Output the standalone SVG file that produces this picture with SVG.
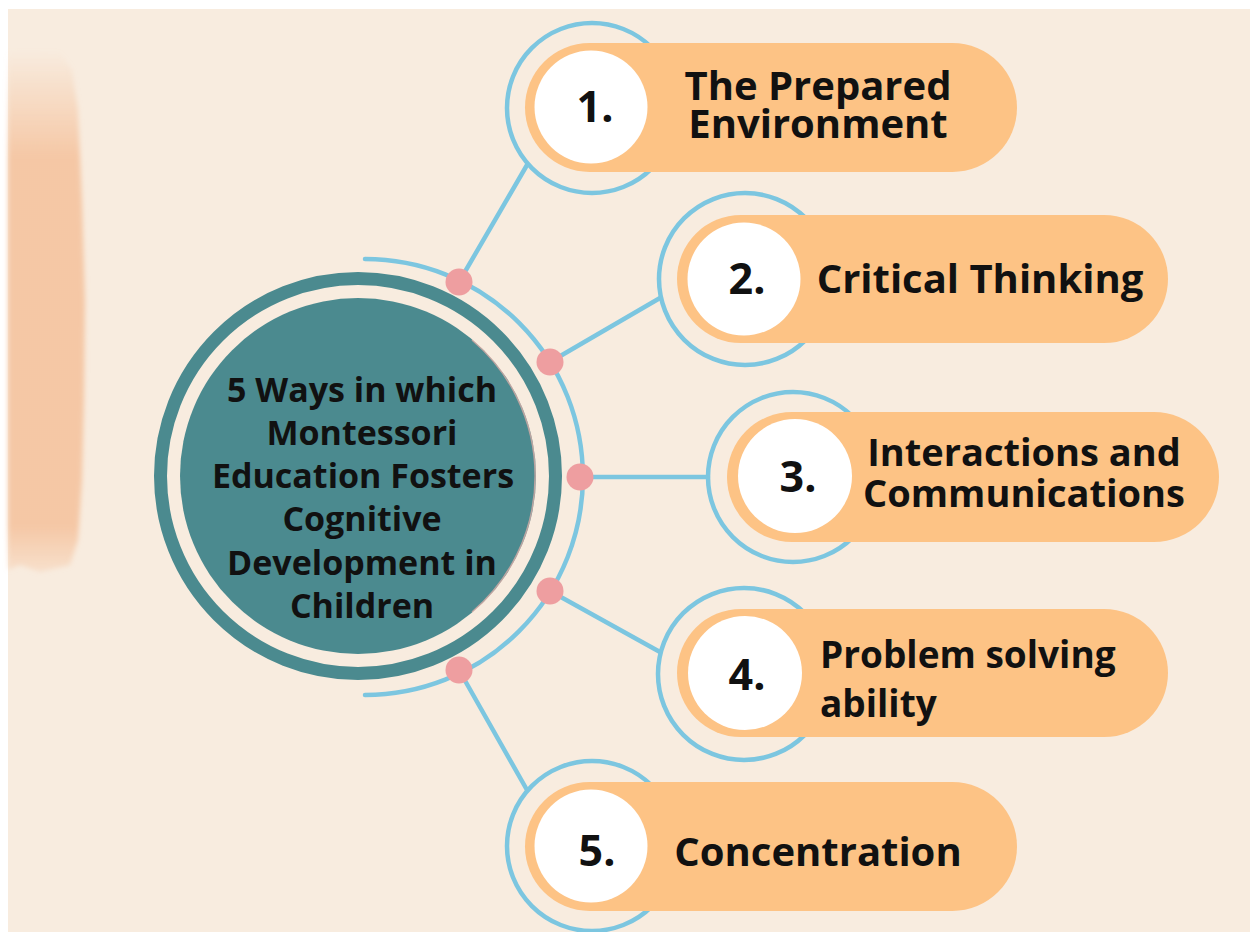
<svg xmlns="http://www.w3.org/2000/svg" width="1250" height="932" viewBox="0 0 1250 932">
  <defs>
    <linearGradient id="brush" x1="0" y1="50" x2="0" y2="580" gradientUnits="userSpaceOnUse">
      <stop offset="0" stop-color="#F5C4A0" stop-opacity="0"/>
      <stop offset="0.1" stop-color="#F5C4A0" stop-opacity="0.45"/>
      <stop offset="0.2" stop-color="#F5C4A0" stop-opacity="0.9"/>
      <stop offset="0.9" stop-color="#F5C4A0" stop-opacity="0.9"/>
      <stop offset="1" stop-color="#F5C4A0" stop-opacity="0.2"/>
    </linearGradient>
    <filter id="soft" x="-20%" y="-10%" width="140%" height="120%">
      <feGaussianBlur stdDeviation="2.5"/>
    </filter>
  </defs>
  <style>
    .ring { fill: none; stroke: #7CC6E0; stroke-width: 4.5; }
    .link { fill: none; stroke: #7CC6E0; stroke-width: 4.5; stroke-linecap: round; }
    .dot { fill: #EE9EA0; }
    .pill { fill: #FDC385; }
    .badge { fill: #FFFFFF; }
    .num { font-family: "Open Sans", "Liberation Sans", sans-serif; font-weight: 700; font-size: 43px; fill: #111111; text-anchor: middle; }
    .lbl { font-family: "Open Sans", "Liberation Sans", sans-serif; font-weight: 700; font-size: 40px; fill: #111111; text-anchor: middle; }
    .hub { font-family: "Open Sans", "Liberation Sans", sans-serif; font-weight: 700; font-size: 34px; fill: #111111; text-anchor: middle; }
  </style>

  <rect x="0" y="0" width="1250" height="932" fill="#FFFFFF"/>
  <rect x="8" y="9" width="1242" height="923" fill="#F8ECDF"/>

  <path d="M8 50 L60 52 L72 70 L78 110 L82 200 L85 300 L84 400 L82 480 L78 540 L70 565 L40 572 L20 565 L8 570 Z" fill="url(#brush)" filter="url(#soft)"/>

  <g id="connectors">
    <path d="M365 259 A218 218 0 0 1 365 695" class="link"/>
    <line x1="459" y1="282" x2="527" y2="165" class="link"/>
    <line x1="550" y1="362" x2="660" y2="298" class="link"/>
    <line x1="580" y1="477" x2="708" y2="477" class="link"/>
    <line x1="550" y1="591" x2="660" y2="652" class="link"/>
    <line x1="459" y1="670" x2="527" y2="790" class="link"/>
    <circle cx="459" cy="282" r="13.5" class="dot"/>
    <circle cx="550" cy="362" r="13.5" class="dot"/>
    <circle cx="580" cy="477" r="13.5" class="dot"/>
    <circle cx="550" cy="591" r="13.5" class="dot"/>
    <circle cx="459" cy="670" r="13.5" class="dot"/>
  </g>

  <g id="hub">
    <circle cx="358" cy="476" r="197.5" fill="none" stroke="#4B8A8F" stroke-width="13"/>
    <circle cx="358" cy="476" r="178" fill="#4B8A8F"/>
    <path d="M472 340 A178 178 0 0 1 472 612" fill="none" stroke="#E9AFA8" stroke-width="1.5" opacity="0.7"/>
    <text class="hub" x="362" y="402">5 Ways in which</text>
    <text class="hub" x="362" y="445">Montessori</text>
    <text class="hub" x="363" y="488">Education Fosters</text>
    <text class="hub" x="362" y="531">Cognitive</text>
    <text class="hub" x="362" y="575">Development in</text>
    <text class="hub" x="362" y="618">Children</text>
  </g>

  <g id="item1">
    <circle cx="592" cy="108" r="85" class="ring"/>
    <rect x="525" y="43" width="492" height="129" rx="64.5" class="pill"/>
    <circle cx="591" cy="107" r="56.5" class="badge"/>
    <text class="num" x="595" y="122">1.</text>
    <text class="lbl" x="818" y="100">The Prepared</text>
    <text class="lbl" x="818" y="138">Environment</text>
  </g>

  <g id="item2">
    <circle cx="745" cy="279" r="86" class="ring"/>
    <rect x="677" y="215" width="491" height="128" rx="64" class="pill"/>
    <circle cx="744" cy="279" r="56.5" class="badge"/>
    <text class="num" x="747" y="294">2.</text>
    <text class="lbl" x="980" y="293">Critical Thinking</text>
  </g>

  <g id="item3">
    <circle cx="793" cy="477" r="85" class="ring"/>
    <rect x="727" y="412" width="492" height="130" rx="65" class="pill"/>
    <circle cx="795" cy="476" r="57" class="badge"/>
    <text class="num" x="798" y="492">3.</text>
    <text class="lbl" x="1024" y="466" style="font-size:38px">Interactions and</text>
    <text class="lbl" x="1024" y="507" style="font-size:38px">Communications</text>
  </g>

  <g id="item4">
    <circle cx="744" cy="674" r="86" class="ring"/>
    <rect x="677" y="609" width="491" height="128" rx="64" class="pill"/>
    <circle cx="745" cy="673" r="57" class="badge"/>
    <text class="num" x="747" y="690">4.</text>
    <text class="lbl" x="820" y="668" style="font-size:37px;text-anchor:start">Problem solving</text>
    <text class="lbl" x="820" y="717" style="font-size:37px;text-anchor:start">ability</text>
  </g>

  <g id="item5">
    <circle cx="592" cy="846" r="85" class="ring"/>
    <rect x="525" y="782" width="492" height="129" rx="64.5" class="pill"/>
    <circle cx="591" cy="846" r="56.5" class="badge"/>
    <text class="num" x="597" y="866">5.</text>
    <text class="lbl" x="818" y="866">Concentration</text>
  </g>
</svg>
